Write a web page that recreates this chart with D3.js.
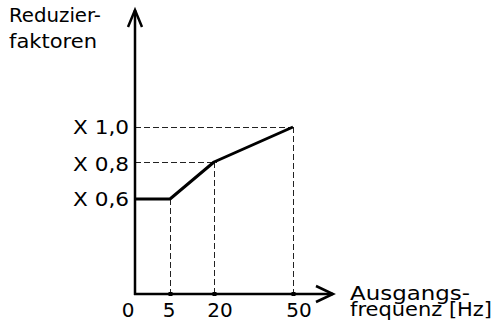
<!DOCTYPE html>
<html><head><meta charset="utf-8">
<script src="https://cdn.jsdelivr.net/npm/d3@7"></script>
<style>html,body{margin:0;padding:0;background:#fff;} text{font-family:"DejaVu Sans",Verdana,sans-serif;fill:#000;}</style>
</head><body>
<svg id="c" width="495" height="327"></svg>
<script>
const freqs = [0, 5, 20, 50];
const factors = [0.6, 0.6, 0.8, 1.0];
const xTickLabels = ["0", "5", "20", "50"];
const yTicks = [0.6, 0.8, 1.0];
const yTickLabels = ["X 0,6", "X 0,8", "X 1,0"];
const yTitle = ["Reduzier-", "faktoren"];
const xTitle = ["Ausgangs-", "frequenz [Hz]"];

const svg = d3.select("#c");
// schematic (non-uniform) scales
const x = d3.scaleLinear().domain([0, 5, 20, 50]).range([135, 170, 214, 293]);
const y = d3.scaleLinear().domain([0.6, 0.8, 1.0]).range([199, 162, 127]);
const x0 = x(0), yBase = 294, yTop = 10, xEnd = 333;

// dashed guides
const dash = svg.append("g").attr("stroke", "#222").attr("stroke-width", 1)
  .attr("stroke-dasharray", "6,3").attr("fill", "none").attr("shape-rendering", "crispEdges");
freqs.forEach((f, i) => {
  if (f === 0) return;
  dash.append("line").attr("x1", x(f) + 0.5).attr("x2", x(f) + 0.5).attr("y1", y(factors[i])).attr("y2", yBase);
});
yTicks.forEach(v => {
  if (v === 0.6) return;
  const idx = factors.indexOf(v);
  dash.append("line").attr("x1", x0).attr("x2", x(freqs[idx]) + 3).attr("y1", y(v) + 0.5).attr("y2", y(v) + 0.5);
});

// data line
svg.append("path")
  .datum(freqs.map((f, i) => [f, factors[i]]))
  .attr("fill", "none").attr("stroke", "#000").attr("stroke-width", 3).attr("stroke-linejoin", "round")
  .attr("d", d3.line().x(d => x(d[0])).y(d => y(d[1])));

// axes
const ax = svg.append("g").attr("stroke", "#000").attr("stroke-width", 2.5).attr("fill", "none");
ax.append("line").attr("x1", x0).attr("x2", x0).attr("y1", yBase + 1).attr("y2", yTop);
ax.append("line").attr("x1", x0 - 1).attr("x2", xEnd).attr("y1", yBase).attr("y2", yBase);
ax.append("path").attr("d", `M${x0 - 7},${yTop + 17}L${x0},${yTop}L${x0 + 7},${yTop + 17}`);
ax.append("path").attr("d", `M${xEnd - 17},${yBase - 8}L${xEnd},${yBase}L${xEnd - 17},${yBase + 8}`);

// small tick squares
freqs.forEach(f => {
  if (f === 0) return;
  svg.append("rect").attr("x", x(f) - 1.5).attr("y", yBase - 2).attr("width", 4).attr("height", 4).attr("fill", "#000");
});

function txt(xp, yp, s, size, len, anchor) {
  const t = svg.append("text").attr("x", xp).attr("y", yp).attr("font-size", size).text(s);
  if (anchor) t.attr("text-anchor", anchor);
  if (len) t.attr("textLength", len).attr("lengthAdjust", "spacingAndGlyphs");
  return t;
}

// x tick labels
const xLabOff = [-7, -1, 6, 6];
freqs.forEach((f, i) => {
  txt(x(f) + xLabOff[i], 317, xTickLabels[i], 20, null, "middle");
});
// y tick labels
const yLabOff = [7, 9, 7];
yTicks.forEach((v, i) => {
  txt(73, y(v) + yLabOff[i], yTickLabels[i], 19, 56);
});

// titles
txt(9, 22, yTitle[0], 20, 92);
txt(9, 48, yTitle[1], 20, 88);
txt(350, 300, xTitle[0], 19.5, 120);
txt(350, 316, xTitle[1], 19.5, 142);
</script>
</body></html>
